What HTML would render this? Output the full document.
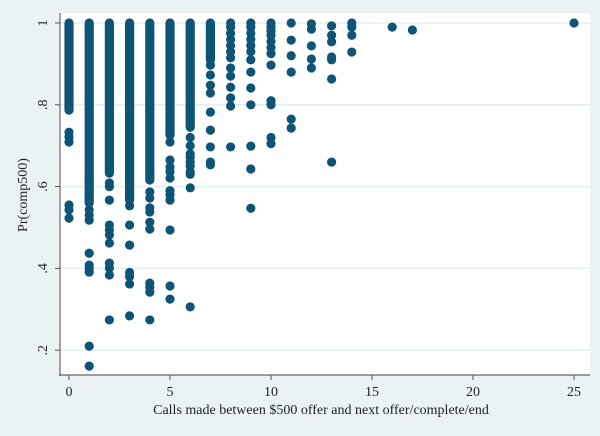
<!DOCTYPE html>
<html><head><meta charset="utf-8"><style>
html,body{margin:0;padding:0;background:#eaf2f3;}
svg{display:block;font-family:"Liberation Serif",serif;}
</style></head><body>
<svg id="chart" width="600" height="436" viewBox="0 0 600 436">
<rect x="0" y="0" width="600" height="436" fill="#eaf2f3"/>
<rect x="60" y="13" width="530" height="362" fill="#ffffff"/>
<g id="grid"></g>
<g id="bands"></g>
<g id="points"></g>
<g id="axes"></g>
<text x="321" y="414" font-size="14" text-anchor="middle" fill="#222">Calls made between $500 offer and next offer/complete/end</text>
<text transform="translate(27,195) rotate(-90)" font-size="14" text-anchor="middle" fill="#222">Pr(comp500)</text>
</svg>
<script>
const xTicks = [0,5,10,15,20,25];
const yTicks = [0.2,0.4,0.6,0.8,1];
const yTickLabels = [".2",".4",".6",".8","1"];
// dense ranges per x (many overlapping points)
const bandX = [0,1,2,3,4,5,6,7];
const bandLo = [0.787,0.56,0.633,0.567,0.616,0.726,0.745,0.91];
const bandHi = [1,1,1,1,1,1,1,1];
// individual points
const ptX = [0,0,0,0,0,0,
 1,1,1,1,1,1,1,1,1,1,1,1,
 2,2,2,2,2,2,2,2,2,2,2,
 3,3,3,3,3,3,3,
 4,4,4,4,4,4,4,4,4,4,
 5,5,5,5,5,5,5,5,5,5,5,5,
 6,6,6,6,6,6,6,6,6,6,
 7,7,7,7,7,7,7,7,7,
 8,8,8,8,8,8,8,8,8,8,8,8,8,
 9,9,9,9,9,9,9,9,9,9,9,9,9,
 10,10,10,10,10,10,10,10,10,10,10,10,
 11,11,11,11,11,11,
 12,12,12,12,12,
 13,13,13,13,13,13,13,
 14,14,14,14,
 16,17,25];
const ptY = [0.733,0.721,0.709,0.555,0.543,0.523,
 0.616,0.592,0.567,0.543,0.518,0.437,0.408,0.401,0.391,0.21,0.161,0.53,
 0.609,0.567,0.506,0.494,0.482,0.462,0.413,0.401,0.384,0.274,0.6,
 0.553,0.506,0.457,0.39,0.38,0.362,0.284,
 0.587,0.572,0.548,0.538,0.513,0.496,0.364,0.354,0.342,0.274,
 0.74,0.709,0.665,0.648,0.636,0.621,0.59,0.58,0.567,0.494,0.357,0.325,
 0.72,0.70,0.68,0.672,0.66,0.65,0.636,0.63,0.597,0.306,
 0.897,0.873,0.848,0.829,0.782,0.738,0.697,0.66,0.653,
 1,0.99,0.975,0.96,0.945,0.93,0.915,0.89,0.87,0.843,0.817,0.797,0.697,
 1,0.99,0.975,0.96,0.945,0.93,0.91,0.88,0.841,0.80,0.699,0.643,0.547,
 1,0.99,0.98,0.97,0.955,0.94,0.925,0.897,0.81,0.80,0.72,0.705,
 1,0.958,0.92,0.88,0.765,0.743,
 0.998,0.985,0.944,0.912,0.89,
 0.993,0.97,0.954,0.917,0.91,0.863,0.66,
 1,0.99,0.97,0.929,
 0.99,0.983,1];
const NS="http://www.w3.org/2000/svg";
const X0=69, XS=20.2, Y1=23, YS=409, DOT="#0e5477", R=4.6;
function sx(v){return X0+v*XS;}
function sy(v){return Y1+(1-v)*YS;}
function mk(tag,attrs,parent){const e=document.createElementNS(NS,tag);for(const k in attrs)e.setAttribute(k,attrs[k]);parent.appendChild(e);return e;}
const grid=document.getElementById('grid'), axes=document.getElementById('axes');
yTicks.forEach((t,i)=>{
  const g=mk('line',{x1:60,x2:590,y1:sy(t),y2:sy(t),stroke:'#e3eef0','stroke-width':1.5},grid);
  
  
  const tk=mk('line',{x1:55,x2:60,y1:sy(t),y2:sy(t),stroke:'#555','stroke-width':1},axes);
  
  
  const lb=mk('text',{transform:`translate(47,${sy(t)}) rotate(-90)`,'font-size':14,'text-anchor':'middle',fill:'#222'},axes);
  lb.textContent=yTickLabels[i];
  
  
});
xTicks.forEach(t=>{
  const tk=mk('line',{x1:sx(t),x2:sx(t),y1:375,y2:380,stroke:'#555','stroke-width':1},axes);
  
  
  const lb=mk('text',{x:sx(t),y:396,'font-size':14,'text-anchor':'middle',fill:'#222'},axes);
  lb.textContent=String(t);
  
  
});
const ya=mk('line',{x1:60,x2:60,y1:13,y2:376,stroke:'#666','stroke-width':1.2},axes);


const xa=mk('line',{x1:59,x2:590,y1:375,y2:375,stroke:'#666','stroke-width':1.2},axes);


const bands=document.getElementById('bands');
bandX.forEach((x,i)=>{
  const top=sy(bandHi[i]), bot=sy(bandLo[i]);
  const b=mk('rect',{x:sx(x)-R,y:top-R,width:2*R,height:bot-top+2*R,rx:R,fill:DOT},bands);
  
  
});
const pts=document.getElementById('points');
ptX.forEach((x,i)=>{
  const c=mk('circle',{cx:sx(x),cy:sy(ptY[i]),r:R,fill:DOT},pts);
  
  
});
</script>
</body></html>
